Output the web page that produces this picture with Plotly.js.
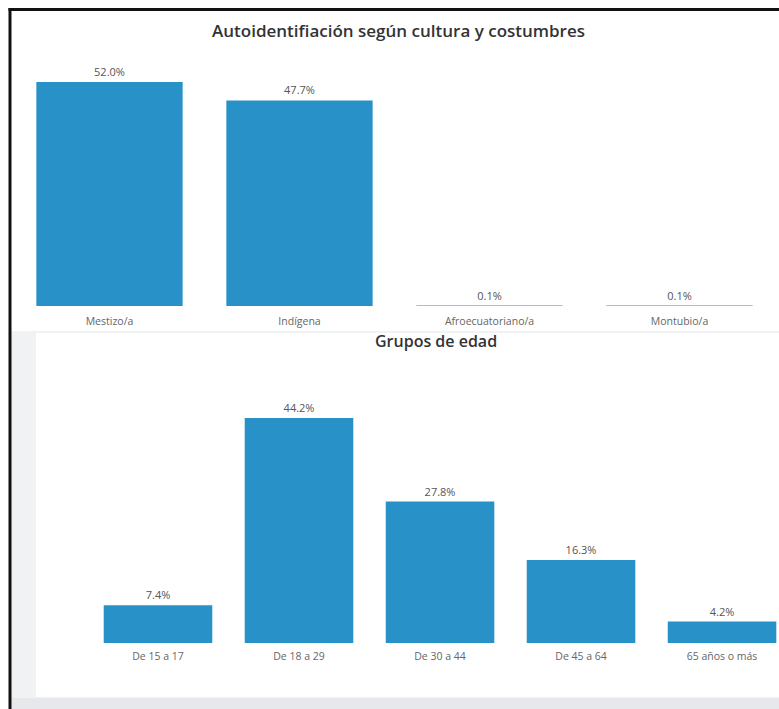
<!DOCTYPE html>
<html><head><meta charset="utf-8">
<script src="https://cdn.plot.ly/plotly-3.0.1.min.js"></script>
<style>html,body{margin:0;padding:0;background:#fff}</style>
</head><body><div id="chart" style="width:779px;height:709px"></div>
<script>
const cultCategories = ["Mestizo/a", "Indígena", "Afroecuatoriano/a", "Montubio/a"];
const cultValues = [52.0, 47.7, 0.1, 0.1];
const cultLabels = ["52.0%", "47.7%", "0.1%", "0.1%"];

const ageCategories = ["De 15 a 17", "De 18 a 29", "De 30 a 44", "De 45 a 64", "65 años o más"];
const ageValues = [7.4, 44.2, 27.8, 16.3, 4.2];
const ageLabels = ["7.4%", "44.2%", "27.8%", "16.3%", "4.2%"];

const W = 779, H = 709;
const blue = "#2892c8";
const fontFam = "'Open Sans', 'Noto Sans', sans-serif";

const traces = [
  {type: "bar", x: cultCategories, y: cultValues, text: cultLabels, textposition: "outside",
   textfont: {family: fontFam, size: 11, color: "#555"}, cliponaxis: false,
   marker: {color: blue}, xaxis: "x", yaxis: "y", hoverinfo: "skip"},
  {type: "bar", x: ageCategories, y: ageValues, text: ageLabels, textposition: "outside",
   textfont: {family: fontFam, size: 11, color: "#555"}, cliponaxis: false,
   marker: {color: blue}, xaxis: "x2", yaxis: "y2", hoverinfo: "skip"}
];

const layout = {
  width: W, height: H,
  margin: {l: 0, r: 0, t: 0, b: 0},
  paper_bgcolor: "#ffffff", plot_bgcolor: "rgba(0,0,0,0)",
  showlegend: false,
  bargap: 0.23,
  font: {family: fontFam, color: "#666"},
  xaxis: {domain: [14.5/W, 774.5/W], range: [-0.5, 3.5], type: "category",
          showgrid: false, zeroline: false, showline: false, ticks: "", ticklabelstandoff: 7,
          tickfont: {size: 10.5, color: "#666"}, anchor: "y", fixedrange: true},
  yaxis: {domain: [1 - 306/H, 1 - 69/H], range: [0, 55], visible: false, fixedrange: true},
  xaxis2: {domain: [87.5/W, 1], range: [-0.5, 4.404], type: "category",
           showgrid: false, zeroline: false, showline: false, ticks: "", ticklabelstandoff: 5,
           tickfont: {size: 10.5, color: "#666"}, anchor: "y2", fixedrange: true},
  yaxis2: {domain: [1 - 643/H, 1 - 388.5/H], range: [0, 50], visible: false, fixedrange: true},
  shapes: [
    {type: "rect", xref: "paper", yref: "paper", x0: 11/W, x1: 1, y0: 0, y1: 1 - 331/H,
     fillcolor: "#f1f2f4", line: {width: 0}, layer: "below"},
    {type: "rect", xref: "paper", yref: "paper", x0: 36/W, x1: 1, y0: 1 - 697/H, y1: 1 - 333/H,
     fillcolor: "#ffffff", line: {width: 0}, layer: "below"},
    {type: "rect", xref: "paper", yref: "paper", x0: 11/W, x1: 1, y0: 0, y1: 1 - 698/H,
     fillcolor: "#e6e8eb", line: {width: 0}, layer: "below"},
    {type: "line", xref: "paper", yref: "paper", x0: 10/W, x1: 10/W, y0: 0, y1: 1 - 8/H,
     line: {color: "#111", width: 3}},
    {type: "line", xref: "paper", yref: "paper", x0: 8.5/W, x1: 1, y0: 1 - 9.5/H, y1: 1 - 9.5/H,
     line: {color: "#111", width: 3}}
  ],
  annotations: [
    {text: "Autoidentifiación según cultura y costumbres", xref: "paper", yref: "paper",
     x: 398/W, y: 1 - 30/H, xanchor: "center", yanchor: "middle", showarrow: false,
     font: {family: fontFam, size: 17, color: "#333", weight: 600}},
    {text: "Grupos de edad", xref: "paper", yref: "paper",
     x: 436/W, y: 1 - 341/H, xanchor: "center", yanchor: "middle", showarrow: false,
     font: {family: fontFam, size: 16, color: "#333", weight: 600}}
  ]
};

Plotly.newPlot("chart", traces, layout, {displayModeBar: false, staticPlot: true});
</script></body></html>
